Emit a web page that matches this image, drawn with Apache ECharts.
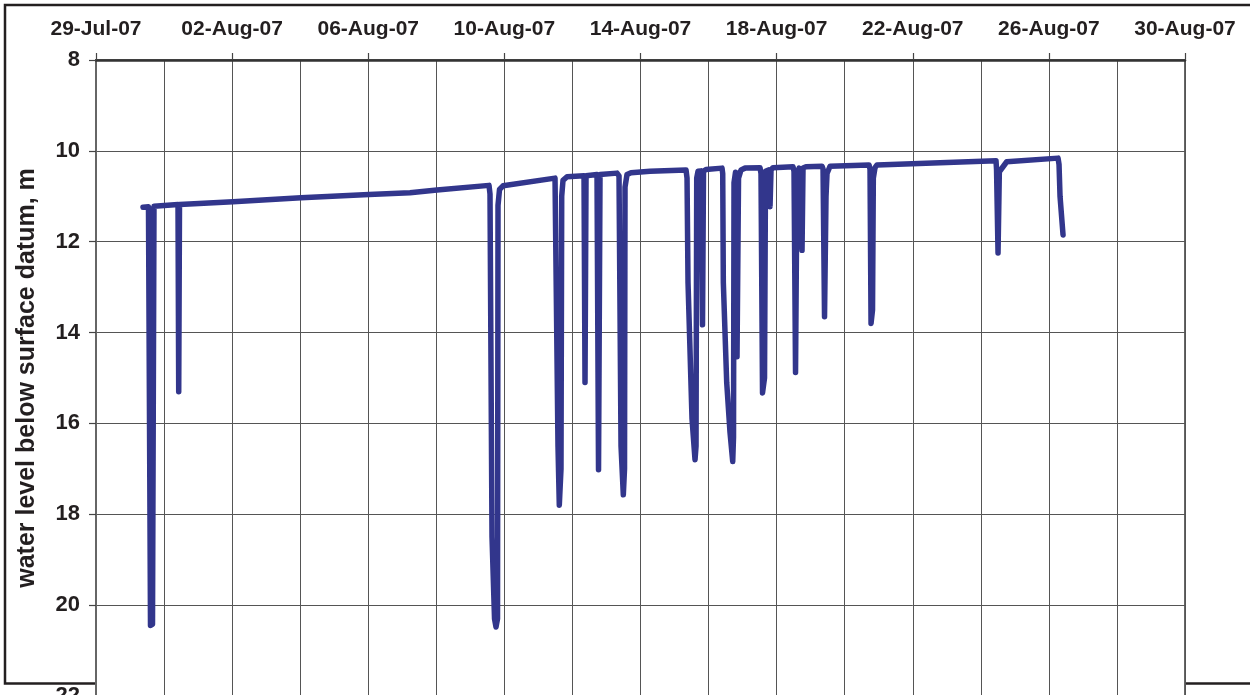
<!DOCTYPE html>
<html><head><meta charset="utf-8">
<script src="https://cdn.jsdelivr.net/npm/echarts@6/dist/echarts.min.js"></script>
<style>html,body{margin:0;padding:0;overflow:hidden;background:#fff}#c{width:1250px;height:695px}</style>
</head><body><div id="c"></div>
<script>
// x axis: days from 29-Jul-07, labelled every 4 days
const xTickLabels = ['29-Jul-07','02-Aug-07','06-Aug-07','10-Aug-07','14-Aug-07','18-Aug-07','22-Aug-07','26-Aug-07','30-Aug-07'];
const yTickValues = [8,10,12,14,16,18,20,22];
const yTitle = 'water level below surface datum, m';

const times = [
'2007-07-30 09:09','2007-07-30 13:01','2007-07-30 14:26','2007-07-30 15:51','2007-07-30 16:54',
'2007-07-31 09:50','2007-07-31 10:20','2007-07-31 10:53',
'2007-08-02 00:37','2007-08-04 00:35','2007-08-06 00:32','2007-08-07 05:27','2007-08-08 00:29',
'2007-08-09 13:10','2007-08-09 13:52','2007-08-09 15:17','2007-08-09 17:03','2007-08-09 18:06','2007-08-09 19:10','2007-08-09 19:31','2007-08-09 20:34','2007-08-09 23:02',
'2007-08-11 11:43','2007-08-11 12:25','2007-08-11 13:49','2007-08-11 14:44','2007-08-11 15:56','2007-08-11 16:26','2007-08-11 17:21','2007-08-11 20:11',
'2007-08-12 08:10','2007-08-12 08:52','2007-08-12 09:35',
'2007-08-12 17:20','2007-08-12 18:24','2007-08-12 19:27',
'2007-08-13 07:26','2007-08-13 08:51','2007-08-13 10:16','2007-08-13 11:53','2007-08-13 12:44','2007-08-13 13:05','2007-08-13 14:29','2007-08-13 17:19',
'2007-08-14 06:43',
'2007-08-15 08:06','2007-08-15 08:49','2007-08-15 09:31','2007-08-15 12:20','2007-08-15 14:27','2007-08-15 15:10','2007-08-15 15:39','2007-08-15 16:34',
'2007-08-15 18:41','2007-08-15 19:44','2007-08-15 20:26','2007-08-15 22:13',
'2007-08-16 09:29','2007-08-16 09:59','2007-08-16 10:25','2007-08-16 12:48','2007-08-16 15:08','2007-08-16 17:02','2007-08-16 17:36','2007-08-16 17:57',
'2007-08-16 19:01','2007-08-16 20:04','2007-08-16 21:08','2007-08-16 22:53',
'2007-08-17 01:43','2007-08-17 12:17','2007-08-17 12:59','2007-08-17 14:03','2007-08-17 15:28','2007-08-17 16:10',
'2007-08-17 18:17','2007-08-17 19:21','2007-08-17 20:03','2007-08-17 21:28',
'2007-08-18 11:34','2007-08-18 12:16','2007-08-18 13:20','2007-08-18 14:23','2007-08-18 15:48','2007-08-18 17:55','2007-08-18 18:37','2007-08-18 20:44',
'2007-08-19 08:01','2007-08-19 08:44','2007-08-19 09:47','2007-08-19 10:50','2007-08-19 11:33','2007-08-19 13:40',
'2007-08-20 17:10','2007-08-20 17:52','2007-08-20 18:35','2007-08-20 19:38','2007-08-20 20:12','2007-08-20 21:24','2007-08-20 22:49',
'2007-08-24 10:44','2007-08-24 11:05','2007-08-24 12:09','2007-08-24 13:04','2007-08-24 18:17',
'2007-08-26 06:28','2007-08-26 07:10','2007-08-26 07:52','2007-08-26 09:59'
];
const levels = [
11.24,11.23,20.45,20.42,11.22,
11.18,15.3,11.18,
11.12,11.03,10.96,10.92,10.86,
10.76,10.95,18.5,20.3,20.48,20.3,11.2,10.85,10.77,
10.6,10.62,16.5,17.8,17.0,11.0,10.65,10.57,
10.55,15.1,10.55,
10.52,17.02,10.52,
10.49,10.55,16.5,17.57,17.0,10.8,10.52,10.48,
10.45,
10.42,10.6,12.9,15.9,16.8,16.5,10.6,10.45,
10.44,13.83,10.45,10.41,
10.38,10.5,12.9,15.1,16.2,16.84,16.3,10.7,
10.47,14.53,10.6,10.42,
10.38,10.37,10.5,15.33,15.0,10.45,
10.42,11.23,10.42,10.37,
10.35,10.45,14.88,10.5,10.38,12.19,10.38,10.35,
10.34,10.4,13.65,11.0,10.5,10.34,
10.31,10.4,13.8,13.5,10.6,10.37,10.31,
10.22,10.4,12.25,10.46,10.24,
10.16,10.3,11.0,11.85
];

const BASE = Date.UTC(2007, 6, 29);
function toDays(s) {
  const [d, t] = s.split(' ');
  const [Y, M, D] = d.split('-').map(Number);
  const [h, m] = t.split(':').map(Number);
  return (Date.UTC(Y, M - 1, D, h, m) - BASE) / 86400000;
}
const seriesData = times.map((t, i) => [toDays(t), levels[i]]);

const FONT = '"Liberation Sans", Arial, sans-serif';
const TXT = '#231f20';
const chart = echarts.init(document.getElementById('c'), null, {renderer: 'canvas'});
chart.setOption({
  animation: false,
  backgroundColor: '#fff',
  graphic: {elements: [{
    type: 'rect', z: -10, silent: true,
    shape: {x: 5, y: 5, width: 1300, height: 678.5},
    style: {fill: '#fff', stroke: '#231f20', lineWidth: 2.5}
  }]},
  grid: {left: 96, right: 65, top: 60, bottom: -1, outerBoundsMode: 'none', containLabel: false,
    show: true, backgroundColor: '#fff', borderColor: '#666', borderWidth: 2},
  xAxis: {
    type: 'value', position: 'top', min: 0, max: 32, interval: 4,
    axisLine: {show: true, lineStyle: {color: '#333', width: 2.5}},
    axisTick: {show: true, length: 7, lineStyle: {color: '#444', width: 1.2}},
    axisLabel: {formatter: v => xTickLabels[Math.round(v / 4)] || '', fontFamily: FONT, fontWeight: 'bold', fontSize: 21, color: TXT, margin: 20, showMinLabel: true, showMaxLabel: true},
    splitLine: {show: true, lineStyle: {color: '#555', width: 1}},
    minorTick: {show: false, splitNumber: 2},
    minorSplitLine: {show: true, lineStyle: {color: '#555', width: 1}}
  },
  yAxis: {
    type: 'value', inverse: true, min: yTickValues[0], max: yTickValues[yTickValues.length - 1], interval: 2,
    name: yTitle, nameLocation: 'middle', nameGap: 56,
    nameTextStyle: {fontFamily: FONT, fontWeight: 'bold', fontSize: 25, color: TXT},
    axisLine: {show: true, lineStyle: {color: '#666', width: 2}},
    axisTick: {show: true, length: 7, lineStyle: {color: '#444', width: 1.2}},
    axisLabel: {fontFamily: FONT, fontWeight: 'bold', fontSize: 22, color: TXT, margin: 16, showMinLabel: true, showMaxLabel: true},
    splitLine: {show: true, lineStyle: {color: '#555', width: 1}}
  },
  series: [{
    type: 'line', data: seriesData, showSymbol: false, symbol: 'none',
    lineStyle: {color: '#32368c', width: 5.5, join: 'round', cap: 'round'}
  }]
});
</script></body></html>
